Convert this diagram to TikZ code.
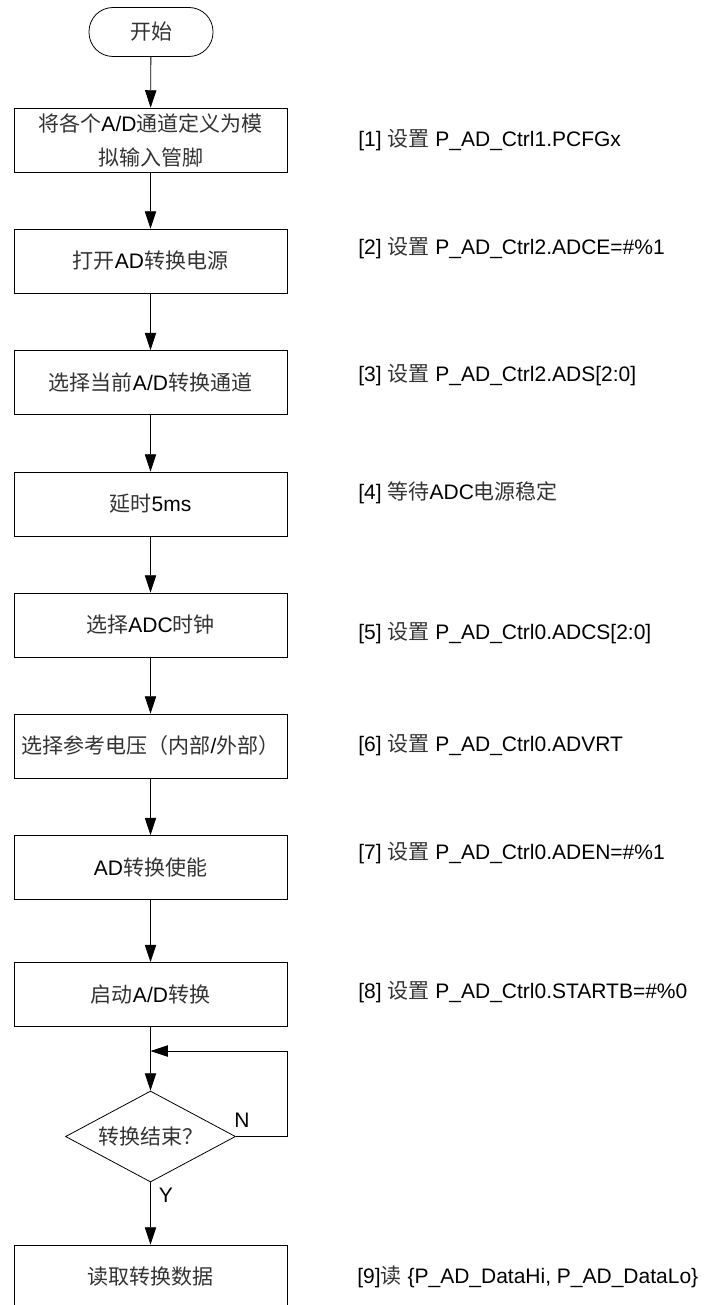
\documentclass[tikz,border=0pt]{standalone}
\usepackage{fontspec}
\setmainfont{Liberation Sans}
\newfontfamily\zhfont{Noto Sans CJK SC}
\newcommand{\zh}[1]{{\zhfont\color{black!80}#1}}
\usetikzlibrary{arrows.meta,shapes.geometric}

\begin{document}
\begin{tikzpicture}[x=0.75pt,y=-0.75pt,>={Triangle[length=13pt,width=8.5pt,fill=black]},
  font=\fontsize{15.75}{25.5}\selectfont,line width=0.6pt,
  proc/.style={draw,minimum width=204.75pt,minimum height=48pt,inner sep=1pt,align=center},
  term/.style={draw,rounded corners=18pt,minimum width=93pt,minimum height=36.75pt},
  cond/.style={draw,diamond,aspect=1.87,inner sep=0pt,minimum width=127.5pt,minimum height=68.25pt},
  note/.style={anchor=west,inner sep=0pt}]
\useasboundingbox (0,0) rectangle (706,1305);
\node[term] (s) at (151,32) {\zh{开始}};
\node[proc] (b1) at (150.5,140) {\zh{将各个}A/D\zh{通道定义为模}\\\zh{拟输入管脚}};
\node[proc] (b2) at (150.5,261) {\zh{打开}AD\zh{转换电源}};
\node[proc] (b3) at (150.5,382.5) {\zh{选择当前}A/D\zh{转换通道}};
\node[proc] (b4) at (150.5,504) {\zh{延时}5ms};
\node[proc] (b5) at (150.5,625) {\zh{选择}ADC\zh{时钟}};
\node[proc] (b6) at (150.5,746) {\zh{选择参考电压（内部}/\zh{外部）}};
\node[proc] (b7) at (150.5,867.5) {AD\zh{转换使能}};
\node[proc] (b8) at (150.5,994.5) {\zh{启动}A/D\zh{转换}};
\node[cond] (d) at (150.5,1136.5) {\zh{转换结束？}};
\node[proc] (b9) at (150.5,1277) {\zh{读取转换数据}};
\coordinate (j) at (150.5,1051);
\foreach \a/\b in {s/b1,b1/b2,b2/b3,b3/b4,b4/b5,b5/b6,b6/b7,b7/b8,b8/d} \draw[->] (\a) -- (\b);
\draw[->] (d.east) -- ++(51,0) |- (j);
\draw[->] (d) -- node[pos=0.21,right=6pt,inner sep=0pt]{Y} (b9);
\node[anchor=south west,inner sep=0pt] (nl) at ([shift={(-2,-9)}]d.east) {N};
\node[note] (n1) at (358,140) {[1] \zh{设置} P\_AD\_Ctrl1.PCFGx};
\node[note] (n2) at (358,248) {[2] \zh{设置} P\_AD\_Ctrl2.ADCE=\#\%1};
\node[note] (n3) at (358,375) {[3] \zh{设置} P\_AD\_Ctrl2.ADS[2:0]};
\node[note] (n4) at (358,493) {[4] \zh{等待}ADC\zh{电源稳定}};
\node[note] (n5) at (358,633) {[5] \zh{设置} P\_AD\_Ctrl0.ADCS[2:0]};
\node[note] (n6) at (358,745) {[6] \zh{设置} P\_AD\_Ctrl0.ADVRT};
\node[note] (n7) at (358,853) {[7] \zh{设置} P\_AD\_Ctrl0.ADEN=\#\%1};
\node[note] (n8) at (358,992) {[8] \zh{设置} P\_AD\_Ctrl0.STARTB=\#\%0};
\node[note] (n9) at (357,1277) {[9]\zh{读} \{P\_AD\_DataHi, P\_AD\_DataLo\}};
\end{tikzpicture}
\end{document}
